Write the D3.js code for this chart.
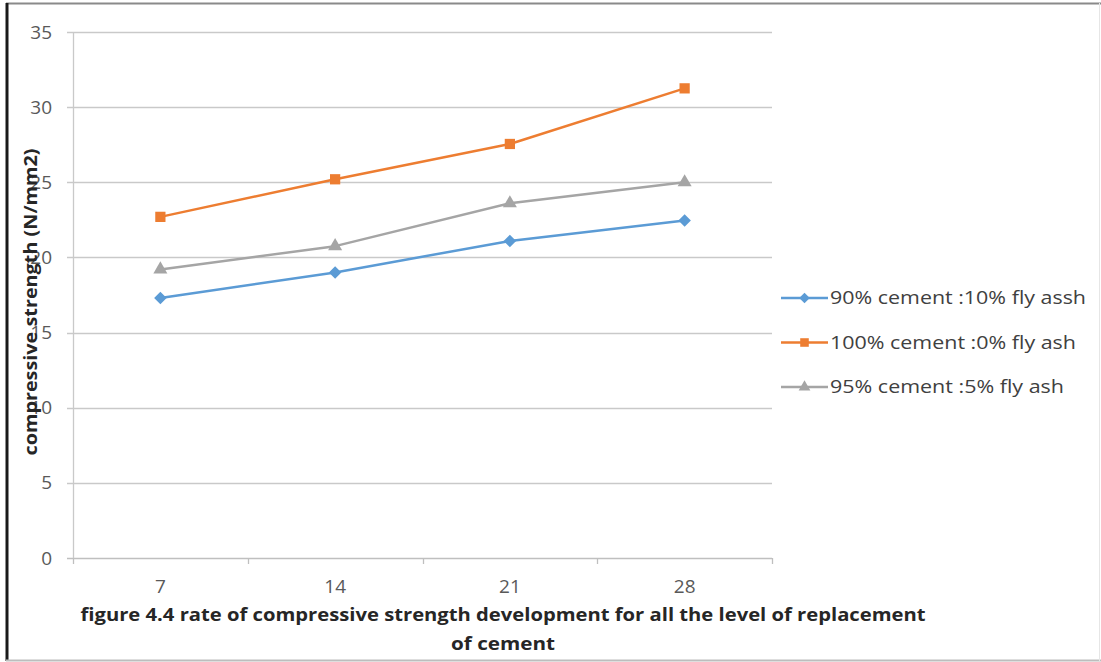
<!DOCTYPE html>
<html>
<head>
<meta charset="utf-8">
<script src="https://cdn.jsdelivr.net/npm/d3@7"></script>
<style>
  html, body { margin: 0; padding: 0; background: #fff; }
  svg { display: block; }
</style>
</head>
<body>
<svg id="chart" width="1101" height="662"></svg>
<script>
// Curing age (days) on the category axis
const days = ["7", "14", "21", "28"];

// Compressive strength (N/mm2) per mix
const flyAsh10 = [17.3, 19.0, 21.1, 22.45];
const flyAsh0 = [22.7, 25.2, 27.55, 31.25];
const flyAsh5 = [19.2, 20.75, 23.6, 25.0];

const seriesNames = ["90% cement :10% fly assh", "100% cement :0% fly ash", "95% cement :5% fly ash"];
const yTicks = [0, 5, 10, 15, 20, 25, 30, 35];

const captionLines = [
  "figure 4.4 rate of compressive strength development for all the level of replacement",
  "of cement"
];
const yTitle = "compressive strength (N/mm2)";

const diamond = d3.symbolDiamond2 || d3.symbolDiamond;
const series = [
  { name: seriesNames[0], values: flyAsh10, color: "#5B9BD5", symbol: diamond, size: 100, width: 256 },
  { name: seriesNames[1], values: flyAsh0, color: "#ED7D31", symbol: d3.symbolSquare, size: 105, width: 246 },
  { name: seriesNames[2], values: flyAsh5, color: "#A5A5A5", symbol: d3.symbolTriangle, size: 85, width: 234 }
];

const svg = d3.select("#chart");
const font = "'Open Sans', 'Noto Sans', 'Liberation Sans', sans-serif";

// Outer frame
svg.append("line").attr("x1", 6).attr("x2", 1101).attr("y1", 3.5).attr("y2", 3.5)
  .attr("stroke", "#8a8a8a").attr("stroke-width", 2);
svg.append("line").attr("x1", 7).attr("x2", 7).attr("y1", 3).attr("y2", 661)
  .attr("stroke", "#1a1a1a").attr("stroke-width", 3);
svg.append("line").attr("x1", 6).attr("x2", 1101).attr("y1", 660.5).attr("y2", 660.5)
  .attr("stroke", "#bdbdbd").attr("stroke-width", 2);
svg.append("line").attr("x1", 1099.5).attr("x2", 1099.5).attr("y1", 3).attr("y2", 661)
  .attr("stroke", "#e6e6e6").attr("stroke-width", 1);

const plot = { left: 73, right: 772, top: 32, bottom: 558 };

const x = d3.scaleBand().domain(days).range([plot.left, plot.right]).padding(0);
const y = d3.scaleLinear().domain([0, 35]).range([plot.bottom, plot.top]);

// Horizontal gridlines
svg.append("g").selectAll("line").data(yTicks).join("line")
  .attr("x1", plot.left - 6).attr("x2", plot.right)
  .attr("y1", d => Math.round(y(d)) + 0.5).attr("y2", d => Math.round(y(d)) + 0.5)
  .attr("stroke", d => d === 0 ? "#bfbfbf" : "#c9c9c9").attr("stroke-width", 1.3);

// Vertical axis line
svg.append("line").attr("x1", plot.left + 0.5).attr("x2", plot.left + 0.5)
  .attr("y1", plot.top).attr("y2", plot.bottom)
  .attr("stroke", "#c9c9c9").attr("stroke-width", 1.3);

// Y tick labels
const yAxis = d3.axisLeft(y).tickValues(yTicks).tickSize(0).tickPadding(0);
const yg = svg.append("g").attr("transform", `translate(${plot.left - 21},0)`).call(yAxis);
yg.select(".domain").remove();
yg.selectAll("text").attr("font-family", font).attr("font-size", 19).attr("fill", "#595959");

// X axis: tick marks between categories, labels centred in each band
const boundaries = days.map(d => x(d)).concat([plot.right]);
svg.append("g").selectAll("line").data(boundaries).join("line")
  .attr("x1", d => Math.round(d) + 0.5).attr("x2", d => Math.round(d) + 0.5)
  .attr("y1", plot.bottom).attr("y2", plot.bottom + 6)
  .attr("stroke", "#bfbfbf").attr("stroke-width", 1.3);

const xAxis = d3.axisBottom(x).tickSize(0).tickPadding(0);
const xg = svg.append("g").attr("transform", `translate(0,${plot.bottom + 21})`).call(xAxis);
xg.select(".domain").remove();
xg.selectAll("text").attr("font-family", font).attr("font-size", 19).attr("fill", "#595959");

// Lines and markers
const cx = i => x(days[i]) + x.bandwidth() / 2;
const line = d3.line().x((d, i) => cx(i)).y(d => y(d));

series.forEach(s => {
  svg.append("path").datum(s.values)
    .attr("d", line).attr("fill", "none")
    .attr("stroke", s.color).attr("stroke-width", 2.5).attr("stroke-linejoin", "round");
  svg.append("g").selectAll("path").data(s.values).join("path")
    .attr("d", d3.symbol().type(s.symbol).size(s.size))
    .attr("transform", (d, i) => `translate(${cx(i)},${y(d)})`)
    .attr("fill", s.color);
});

// Legend
const legend = svg.append("g");
series.forEach((s, i) => {
  const ly = 298 + i * 44.5;
  legend.append("line").attr("x1", 781).attr("x2", 828).attr("y1", ly).attr("y2", ly)
    .attr("stroke", s.color).attr("stroke-width", 2.5);
  legend.append("path").attr("d", d3.symbol().type(s.symbol).size(s.size * 0.7))
    .attr("transform", `translate(804.5,${ly})`).attr("fill", s.color);
  legend.append("text").attr("x", 830).attr("y", ly).attr("dy", "0.35em")
    .attr("font-family", font).attr("font-size", 17.5).attr("fill", "#404040")
    .attr("textLength", s.width).attr("lengthAdjust", "spacingAndGlyphs")
    .text(s.name);
});

// Y-axis title
svg.append("text")
  .attr("transform", "translate(37,302) rotate(-90)")
  .attr("text-anchor", "middle")
  .attr("font-family", font).attr("font-size", 17).attr("font-weight", "bold")
  .attr("fill", "#262626")
  .attr("textLength", 307).attr("lengthAdjust", "spacingAndGlyphs")
  .text(yTitle);

// Caption below the axis
const captionWidths = [845, 104];
svg.append("g").selectAll("text").data(captionLines).join("text")
  .attr("x", 503).attr("y", (d, i) => 621 + i * 29)
  .attr("text-anchor", "middle")
  .attr("font-family", font).attr("font-size", 17.5).attr("font-weight", "bold")
  .attr("fill", "#262626")
  .attr("textLength", (d, i) => captionWidths[i]).attr("lengthAdjust", "spacingAndGlyphs")
  .text(d => d);
</script>
</body>
</html>
